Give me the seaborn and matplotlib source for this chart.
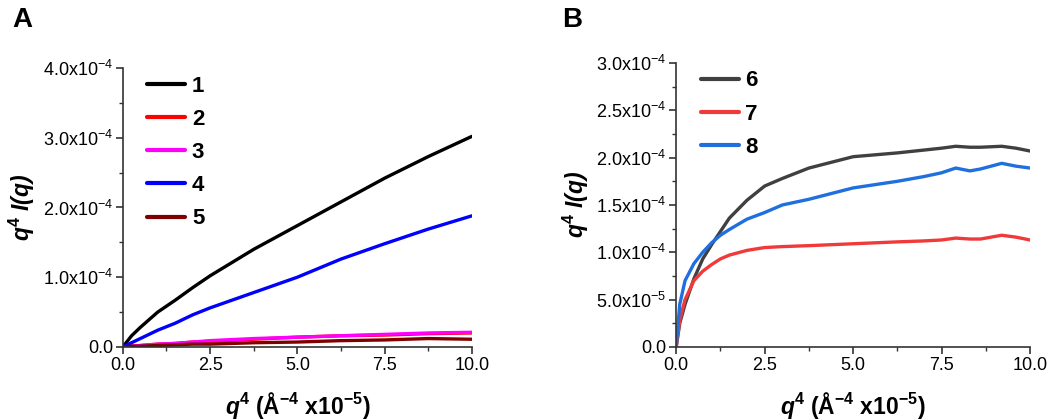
import matplotlib
matplotlib.use("Agg")
import matplotlib.pyplot as plt
import seaborn as sns
from matplotlib.ticker import MultipleLocator, AutoMinorLocator, FuncFormatter

sns.set_theme(style="ticks")
plt.rcParams['font.family'] = ['Liberation Sans', 'DejaVu Sans']
plt.rcParams['mathtext.fontset'] = 'custom'
plt.rcParams['mathtext.rm'] = 'Liberation Sans'
plt.rcParams['mathtext.it'] = 'Liberation Sans:italic'
plt.rcParams['mathtext.bf'] = 'Liberation Sans:bold'
plt.rcParams['mathtext.bfit'] = 'Liberation Sans:italic:bold'
plt.rcParams['text.color'] = 'black'
plt.rcParams['axes.labelcolor'] = 'black'
plt.rcParams['xtick.labelcolor'] = 'black'
plt.rcParams['ytick.labelcolor'] = 'black'

# panel A data (x in A^-4 x1e-5, y in q^4 I(q))
xa = [0.0, 0.25, 0.5, 1.0, 1.5, 2.0, 2.5, 3.75, 5.0, 6.25, 7.5, 8.75, 10.0]
a1 = [0.0, 0.16e-4, 0.28e-4, 0.5e-4, 0.67e-4, 0.85e-4, 1.02e-4, 1.4e-4, 1.74e-4, 2.08e-4, 2.42e-4, 2.73e-4, 3.02e-4]
a2 = [0.0, 0.01e-4, 0.02e-4, 0.04e-4, 0.05e-4, 0.07e-4, 0.08e-4, 0.11e-4, 0.14e-4, 0.16e-4, 0.17e-4, 0.19e-4, 0.2e-4]
a3 = [0.0, 0.01e-4, 0.02e-4, 0.04e-4, 0.05e-4, 0.07e-4, 0.09e-4, 0.12e-4, 0.14e-4, 0.16e-4, 0.18e-4, 0.2e-4, 0.21e-4]
a4 = [0.0, 0.06e-4, 0.12e-4, 0.24e-4, 0.34e-4, 0.46e-4, 0.56e-4, 0.78e-4, 1.0e-4, 1.26e-4, 1.48e-4, 1.69e-4, 1.88e-4]
a5 = [0.0, 0.01e-4, 0.01e-4, 0.02e-4, 0.03e-4, 0.04e-4, 0.04e-4, 0.06e-4, 0.07e-4, 0.09e-4, 0.1e-4, 0.12e-4, 0.11e-4]

# panel B data
xb = [0.0, 0.1, 0.25, 0.5, 0.75, 1.0, 1.25, 1.5, 2.0, 2.5, 3.0, 3.75, 5.0, 6.25, 7.0, 7.5, 7.9, 8.3, 8.6, 9.2, 9.6, 10.0]
b6 = [0.0, 0.25e-4, 0.45e-4, 0.72e-4, 0.93e-4, 1.08e-4, 1.22e-4, 1.36e-4, 1.55e-4, 1.7e-4, 1.78e-4, 1.89e-4, 2.01e-4, 2.05e-4, 2.08e-4, 2.1e-4, 2.12e-4, 2.11e-4, 2.11e-4, 2.12e-4, 2.1e-4, 2.07e-4]
b7 = [0.0, 0.28e-4, 0.5e-4, 0.7e-4, 0.8e-4, 0.87e-4, 0.93e-4, 0.97e-4, 1.02e-4, 1.05e-4, 1.06e-4, 1.07e-4, 1.09e-4, 1.11e-4, 1.12e-4, 1.13e-4, 1.15e-4, 1.14e-4, 1.14e-4, 1.18e-4, 1.16e-4, 1.13e-4]
b8 = [0.0, 0.45e-4, 0.7e-4, 0.88e-4, 1.0e-4, 1.1e-4, 1.18e-4, 1.24e-4, 1.35e-4, 1.42e-4, 1.5e-4, 1.56e-4, 1.68e-4, 1.75e-4, 1.8e-4, 1.84e-4, 1.89e-4, 1.86e-4, 1.88e-4, 1.94e-4, 1.91e-4, 1.89e-4]

labels_a = ["1", "2", "3", "4", "5"]
colors_a = ["#000000", "#ff0000", "#ff00ff", "#0000ff", "#800000"]
labels_b = ["6", "7", "8"]
colors_b = ["#404040", "#f03a3a", "#1f6fdf"]


def sci_fmt(v, pos):
    if abs(v) < 1e-12:
        return "0.0"
    e = int(f"{v:e}".split("e")[1])
    m = v / 10 ** e
    return r"$\mathregular{%.1fx10^{%d}}$" % (m, e)


def style_axis(ax, ymax, ystep):
    ax.set_xlim(0, 10)
    ax.set_ylim(0, ymax)
    ax.xaxis.set_major_locator(MultipleLocator(2.5))
    ax.xaxis.set_major_formatter(FuncFormatter(lambda v, p: f"{v:.1f}"))
    ax.xaxis.set_minor_locator(AutoMinorLocator(2))
    ax.yaxis.set_major_locator(MultipleLocator(ystep))
    ax.yaxis.set_minor_locator(AutoMinorLocator(2))
    ax.yaxis.set_major_formatter(FuncFormatter(sci_fmt))
    sns.despine(ax=ax)
    for s in ["left", "bottom"]:
        ax.spines[s].set_color("#333333")
        ax.spines[s].set_linewidth(1.2)
    ax.tick_params(which="major", length=5, width=1.2, labelsize=13, color="#333333", pad=2)
    ax.tick_params(which="minor", length=3, width=1.0, color="#333333")
    ax.set_xlabel(r"$\mathbfit{q}^{\mathbf{4}}\ \mathbf{(\AA^{-4}\ x10^{-5})}$", fontsize=16.5, labelpad=12)
    ax.set_ylabel(r"$\mathbfit{q}^{\mathbf{4}}\ \mathbfit{I(q)}$", fontsize=16.5, labelpad=4)


fig = plt.figure(figsize=(10.5, 4.2), dpi=100)
ax1 = fig.add_axes([0.117, 0.174, 0.3324, 0.664])
ax2 = fig.add_axes([0.644, 0.174, 0.337, 0.676])

for ys, lab, col in zip([a1, a2, a3, a4, a5], labels_a, colors_a):
    sns.lineplot(x=xa, y=ys, ax=ax1, color=col, label=lab, linewidth=2.4)
for ys, lab, col in zip([b6, b7, b8], labels_b, colors_b):
    sns.lineplot(x=xb, y=ys, ax=ax2, color=col, label=lab, linewidth=2.4)

style_axis(ax1, 4e-4, 1e-4)
style_axis(ax2, 3e-4, 0.5e-4)

for ax in (ax1, ax2):
    leg = ax.legend(loc="upper left", bbox_to_anchor=(0.045, 1.005), frameon=False,
                    handlelength=1.7, handletextpad=0.3, labelspacing=0.55,
                    borderaxespad=0.0, prop={"weight": "bold", "size": 16})
    for h in leg.get_lines():
        h.set_linewidth(3)

fig.text(0.012, 0.935, "A", fontsize=20, fontweight="bold")
fig.text(0.535, 0.935, "B", fontsize=20, fontweight="bold")

fig.savefig("out.png", dpi=100)
